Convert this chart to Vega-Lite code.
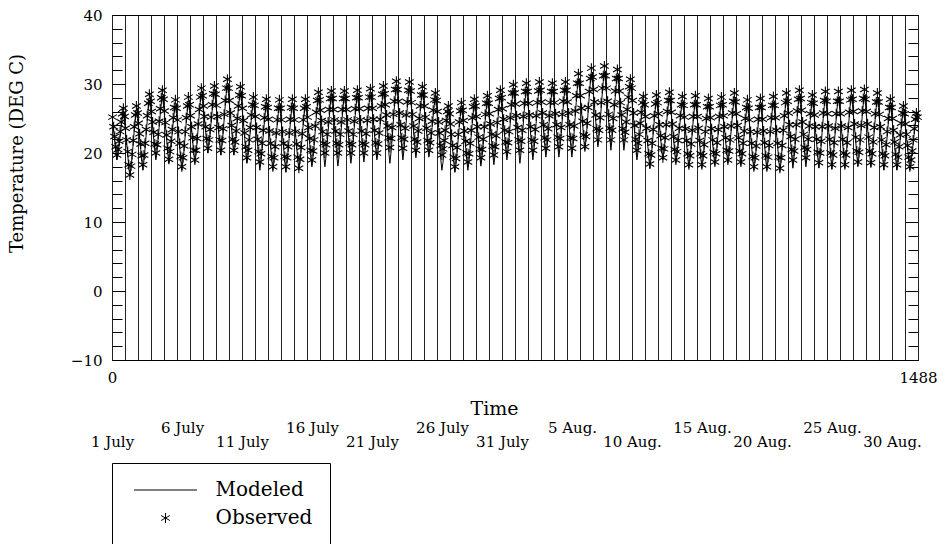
{
 "$schema": "https://vega.github.io/schema/vega-lite/v6.json",
 "width": 806,
 "height": 345,
 "autosize": {"type": "none"},
 "padding": {"left": 112, "top": 15, "right": 30, "bottom": 184},
 "background": "white",
 "config": {
  "font": "DejaVu Serif",
  "view": {"stroke": "black", "strokeWidth": 1},
  "axis": {"labelColor": "black", "titleColor": "black", "tickColor": "black", "tickWidth": 1, "labelFont": "DejaVu Serif", "titleFont": "DejaVu Serif", "titleFontWeight": "normal", "domain": false, "grid": false},
  "legend": {"labelFont": "DejaVu Serif", "titleFont": "DejaVu Serif"}
 },
 "data": {"values": [
{"t":1,"m":24.4,"o":25.2},{"t":3,"m":23.1,"o":23.8},{"t":5,"m":21.7,"o":22.4},{"t":7,"m":20.2,"o":20.9},{"t":9,"m":19.0,"o":19.7},{"t":11,"m":19.8,"o":20.5},{"t":13,"m":21.0,"o":21.7},{"t":15,"m":22.4,"o":23.1},{"t":17,"m":23.7,"o":24.5},{"t":19,"m":24.9,"o":25.7},{"t":21,"m":25.7,"o":26.5},{"t":23,"m":24.6,"o":25.3},
{"t":25,"m":23.0,"o":23.6},{"t":27,"m":21.4,"o":21.9},{"t":29,"m":19.8,"o":20.2},{"t":31,"m":18.0,"o":18.3},{"t":33,"m":16.6,"o":16.8},{"t":35,"m":17.8,"o":18.1},{"t":37,"m":19.4,"o":19.8},{"t":39,"m":21.3,"o":21.8},{"t":41,"m":23.2,"o":23.8},{"t":43,"m":24.8,"o":25.5},{"t":45,"m":26.0,"o":26.8},{"t":47,"m":25.0,"o":25.8},
{"t":49,"m":23.5,"o":24.3},{"t":51,"m":22.0,"o":22.8},{"t":53,"m":20.5,"o":21.3},{"t":55,"m":18.8,"o":19.6},{"t":57,"m":17.5,"o":18.3},{"t":59,"m":18.9,"o":19.7},{"t":61,"m":20.6,"o":21.4},{"t":63,"m":22.6,"o":23.4},{"t":65,"m":24.6,"o":25.4},{"t":67,"m":26.4,"o":27.2},{"t":69,"m":27.7,"o":28.5},{"t":71,"m":26.6,"o":27.5},
{"t":73,"m":25.1,"o":26.0},{"t":75,"m":23.6,"o":24.5},{"t":77,"m":22.0,"o":23.0},{"t":79,"m":20.3,"o":21.3},{"t":81,"m":19.0,"o":20.0},{"t":83,"m":20.2,"o":21.2},{"t":85,"m":21.8,"o":22.7},{"t":87,"m":23.7,"o":24.6},{"t":89,"m":25.5,"o":26.4},{"t":91,"m":27.1,"o":28.0},{"t":93,"m":28.3,"o":29.1},{"t":95,"m":27.1,"o":27.8},
{"t":97,"m":25.4,"o":26.1},{"t":99,"m":23.7,"o":24.4},{"t":101,"m":21.9,"o":22.6},{"t":103,"m":20.0,"o":20.7},{"t":105,"m":18.5,"o":19.1},{"t":107,"m":19.6,"o":20.2},{"t":109,"m":21.0,"o":21.7},{"t":111,"m":22.7,"o":23.4},{"t":113,"m":24.4,"o":25.1},{"t":115,"m":25.9,"o":26.6},{"t":117,"m":26.9,"o":27.7},{"t":119,"m":25.7,"o":26.5},
{"t":121,"m":24.1,"o":24.8},{"t":123,"m":22.5,"o":23.1},{"t":125,"m":20.8,"o":21.4},{"t":127,"m":19.0,"o":19.5},{"t":129,"m":17.5,"o":18.0},{"t":131,"m":18.8,"o":19.3},{"t":133,"m":20.4,"o":21.0},{"t":135,"m":22.4,"o":23.1},{"t":137,"m":24.4,"o":25.1},{"t":139,"m":26.1,"o":26.8},{"t":141,"m":27.3,"o":28.1},{"t":143,"m":26.2,"o":27.0},
{"t":145,"m":24.7,"o":25.4},{"t":147,"m":23.2,"o":23.8},{"t":149,"m":21.6,"o":22.2},{"t":151,"m":19.9,"o":20.4},{"t":153,"m":18.5,"o":19.0},{"t":155,"m":19.8,"o":20.4},{"t":157,"m":21.5,"o":22.1},{"t":159,"m":23.6,"o":24.2},{"t":161,"m":25.6,"o":26.3},{"t":163,"m":27.3,"o":28.1},{"t":165,"m":28.6,"o":29.4},{"t":167,"m":27.5,"o":28.3},
{"t":169,"m":26.0,"o":26.8},{"t":171,"m":24.5,"o":25.3},{"t":173,"m":23.0,"o":23.8},{"t":175,"m":21.3,"o":22.1},{"t":177,"m":20.0,"o":20.7},{"t":179,"m":21.2,"o":21.9},{"t":181,"m":22.7,"o":23.4},{"t":183,"m":24.5,"o":25.2},{"t":185,"m":26.2,"o":27.0},{"t":187,"m":27.8,"o":28.6},{"t":189,"m":28.9,"o":29.7},{"t":191,"m":27.7,"o":28.5},
{"t":193,"m":26.1,"o":26.9},{"t":195,"m":24.5,"o":25.3},{"t":197,"m":22.9,"o":23.7},{"t":199,"m":21.1,"o":21.9},{"t":201,"m":19.7,"o":20.4},{"t":203,"m":21.1,"o":21.8},{"t":205,"m":22.8,"o":23.5},{"t":207,"m":24.8,"o":25.6},{"t":209,"m":26.8,"o":27.6},{"t":211,"m":28.6,"o":29.4},{"t":213,"m":29.9,"o":30.7},{"t":215,"m":28.6,"o":29.4},
{"t":217,"m":26.8,"o":27.6},{"t":219,"m":25.1,"o":25.8},{"t":221,"m":23.3,"o":24.0},{"t":223,"m":21.3,"o":22.0},{"t":225,"m":19.7,"o":20.4},{"t":227,"m":20.9,"o":21.6},{"t":229,"m":22.4,"o":23.2},{"t":231,"m":24.3,"o":25.0},{"t":233,"m":26.1,"o":26.8},{"t":235,"m":27.7,"o":28.4},{"t":237,"m":28.8,"o":29.6},{"t":239,"m":27.5,"o":28.3},
{"t":241,"m":25.7,"o":26.5},{"t":243,"m":23.9,"o":24.7},{"t":245,"m":22.1,"o":22.9},{"t":247,"m":20.1,"o":20.9},{"t":249,"m":18.5,"o":19.3},{"t":251,"m":19.6,"o":20.4},{"t":253,"m":21.1,"o":21.9},{"t":255,"m":22.9,"o":23.7},{"t":257,"m":24.7,"o":25.5},{"t":259,"m":26.2,"o":27.0},{"t":261,"m":27.3,"o":28.1},{"t":263,"m":26.1,"o":26.9},
{"t":265,"m":24.4,"o":25.3},{"t":267,"m":22.7,"o":23.7},{"t":269,"m":20.9,"o":22.0},{"t":271,"m":19.0,"o":20.2},{"t":273,"m":17.5,"o":18.7},{"t":275,"m":18.8,"o":19.9},{"t":277,"m":20.4,"o":21.4},{"t":279,"m":22.3,"o":23.3},{"t":281,"m":24.2,"o":25.1},{"t":283,"m":25.8,"o":26.7},{"t":285,"m":27.0,"o":27.8},{"t":287,"m":25.8,"o":26.6},
{"t":289,"m":24.2,"o":24.9},{"t":291,"m":22.5,"o":23.2},{"t":293,"m":20.8,"o":21.4},{"t":295,"m":19.0,"o":19.5},{"t":297,"m":17.5,"o":18.0},{"t":299,"m":18.7,"o":19.3},{"t":301,"m":20.3,"o":20.9},{"t":303,"m":22.2,"o":22.9},{"t":305,"m":24.1,"o":24.8},{"t":307,"m":25.7,"o":26.5},{"t":309,"m":26.9,"o":27.7},{"t":311,"m":25.7,"o":26.5},
{"t":313,"m":24.0,"o":24.8},{"t":315,"m":22.3,"o":23.1},{"t":317,"m":20.6,"o":21.4},{"t":319,"m":18.7,"o":19.5},{"t":321,"m":17.2,"o":18.0},{"t":323,"m":18.5,"o":19.3},{"t":325,"m":20.1,"o":20.9},{"t":327,"m":22.1,"o":22.9},{"t":329,"m":24.1,"o":24.9},{"t":331,"m":25.8,"o":26.6},{"t":333,"m":27.0,"o":27.8},{"t":335,"m":25.8,"o":26.5},
{"t":337,"m":24.2,"o":24.8},{"t":339,"m":22.5,"o":23.1},{"t":341,"m":20.8,"o":21.3},{"t":343,"m":19.0,"o":19.4},{"t":345,"m":17.5,"o":17.8},{"t":347,"m":18.8,"o":19.1},{"t":349,"m":20.4,"o":20.8},{"t":351,"m":22.3,"o":22.8},{"t":353,"m":24.2,"o":24.8},{"t":355,"m":25.8,"o":26.5},{"t":357,"m":27.0,"o":27.8},{"t":359,"m":25.9,"o":26.7},
{"t":361,"m":24.3,"o":25.2},{"t":363,"m":22.8,"o":23.7},{"t":365,"m":21.2,"o":22.1},{"t":367,"m":19.4,"o":20.4},{"t":369,"m":18.0,"o":19.0},{"t":371,"m":19.3,"o":20.3},{"t":373,"m":21.0,"o":21.9},{"t":375,"m":23.0,"o":23.9},{"t":377,"m":25.0,"o":25.9},{"t":379,"m":26.7,"o":27.6},{"t":381,"m":28.0,"o":28.8},{"t":383,"m":26.7,"o":27.7},
{"t":385,"m":25.0,"o":26.2},{"t":387,"m":23.3,"o":24.7},{"t":389,"m":21.5,"o":23.1},{"t":391,"m":19.6,"o":21.4},{"t":393,"m":18.0,"o":20.0},{"t":395,"m":19.4,"o":21.2},{"t":397,"m":21.1,"o":22.7},{"t":399,"m":23.1,"o":24.5},{"t":401,"m":25.1,"o":26.3},{"t":403,"m":26.9,"o":27.9},{"t":405,"m":28.2,"o":29.0},{"t":407,"m":26.9,"o":27.9},
{"t":409,"m":25.2,"o":26.3},{"t":411,"m":23.4,"o":24.8},{"t":413,"m":21.6,"o":23.2},{"t":415,"m":19.7,"o":21.4},{"t":417,"m":18.1,"o":20.0},{"t":419,"m":19.4,"o":21.2},{"t":421,"m":21.1,"o":22.7},{"t":423,"m":23.2,"o":24.5},{"t":425,"m":25.2,"o":26.3},{"t":427,"m":26.9,"o":27.9},{"t":429,"m":28.2,"o":29.0},{"t":431,"m":27.0,"o":27.9},
{"t":433,"m":25.3,"o":26.3},{"t":435,"m":23.6,"o":24.8},{"t":437,"m":21.9,"o":23.2},{"t":439,"m":20.0,"o":21.4},{"t":441,"m":18.5,"o":20.0},{"t":443,"m":19.8,"o":21.2},{"t":445,"m":21.4,"o":22.7},{"t":447,"m":23.4,"o":24.6},{"t":449,"m":25.4,"o":26.4},{"t":451,"m":27.1,"o":28.0},{"t":453,"m":28.3,"o":29.1},{"t":455,"m":27.1,"o":28.0},
{"t":457,"m":25.4,"o":26.4},{"t":459,"m":23.8,"o":24.8},{"t":461,"m":22.1,"o":23.2},{"t":463,"m":20.2,"o":21.4},{"t":465,"m":18.7,"o":20.0},{"t":467,"m":20.0,"o":21.2},{"t":469,"m":21.6,"o":22.8},{"t":471,"m":23.6,"o":24.7},{"t":473,"m":25.6,"o":26.5},{"t":475,"m":27.3,"o":28.1},{"t":477,"m":28.5,"o":29.3},{"t":479,"m":27.3,"o":28.1},
{"t":481,"m":25.7,"o":26.5},{"t":483,"m":24.0,"o":24.9},{"t":485,"m":22.3,"o":23.3},{"t":487,"m":20.5,"o":21.5},{"t":489,"m":19.0,"o":20.0},{"t":491,"m":20.3,"o":21.3},{"t":493,"m":22.0,"o":22.9},{"t":495,"m":24.0,"o":24.9},{"t":497,"m":25.9,"o":26.8},{"t":499,"m":27.6,"o":28.5},{"t":501,"m":28.9,"o":29.7},{"t":503,"m":27.6,"o":28.6},
{"t":505,"m":25.8,"o":27.0},{"t":507,"m":24.0,"o":25.5},{"t":509,"m":22.1,"o":23.9},{"t":511,"m":20.1,"o":22.2},{"t":513,"m":18.5,"o":20.8},{"t":515,"m":20.0,"o":22.1},{"t":517,"m":21.8,"o":23.7},{"t":519,"m":24.1,"o":25.6},{"t":521,"m":26.3,"o":27.5},{"t":523,"m":28.2,"o":29.2},{"t":525,"m":29.6,"o":30.4},{"t":527,"m":28.2,"o":29.2},
{"t":529,"m":26.4,"o":27.5},{"t":531,"m":24.6,"o":25.8},{"t":533,"m":22.7,"o":24.1},{"t":535,"m":20.7,"o":22.2},{"t":537,"m":19.0,"o":20.7},{"t":539,"m":20.4,"o":22.0},{"t":541,"m":22.2,"o":23.6},{"t":543,"m":24.3,"o":25.5},{"t":545,"m":26.4,"o":27.4},{"t":547,"m":28.2,"o":29.1},{"t":549,"m":29.5,"o":30.3},{"t":551,"m":28.2,"o":29.0},
{"t":553,"m":26.4,"o":27.3},{"t":555,"m":24.7,"o":25.6},{"t":557,"m":22.9,"o":23.9},{"t":559,"m":20.9,"o":22.0},{"t":561,"m":19.3,"o":20.4},{"t":563,"m":20.6,"o":21.6},{"t":565,"m":22.2,"o":23.2},{"t":567,"m":24.1,"o":25.0},{"t":569,"m":26.0,"o":26.8},{"t":571,"m":27.6,"o":28.4},{"t":573,"m":28.8,"o":29.6},{"t":575,"m":27.6,"o":28.4},
{"t":577,"m":26.0,"o":26.8},{"t":579,"m":24.4,"o":25.2},{"t":581,"m":22.7,"o":23.6},{"t":583,"m":20.9,"o":21.8},{"t":585,"m":19.4,"o":20.4},{"t":587,"m":20.5,"o":21.5},{"t":589,"m":22.0,"o":22.9},{"t":591,"m":23.7,"o":24.6},{"t":593,"m":25.4,"o":26.2},{"t":595,"m":26.9,"o":27.7},{"t":597,"m":27.9,"o":28.7},{"t":599,"m":26.6,"o":27.6},
{"t":601,"m":24.8,"o":26.0},{"t":603,"m":23.0,"o":24.5},{"t":605,"m":21.1,"o":22.9},{"t":607,"m":19.1,"o":21.1},{"t":609,"m":17.5,"o":19.7},{"t":611,"m":18.6,"o":20.6},{"t":613,"m":20.1,"o":21.8},{"t":615,"m":21.8,"o":23.3},{"t":617,"m":23.5,"o":24.7},{"t":619,"m":25.0,"o":26.0},{"t":621,"m":26.0,"o":26.8},{"t":623,"m":24.9,"o":25.7},
{"t":625,"m":23.4,"o":24.2},{"t":627,"m":21.9,"o":22.7},{"t":629,"m":20.3,"o":21.1},{"t":631,"m":18.6,"o":19.4},{"t":633,"m":17.2,"o":18.0},{"t":635,"m":18.4,"o":19.2},{"t":637,"m":20.0,"o":20.8},{"t":639,"m":21.9,"o":22.7},{"t":641,"m":23.7,"o":24.5},{"t":643,"m":25.3,"o":26.1},{"t":645,"m":26.5,"o":27.3},{"t":647,"m":25.4,"o":26.2},
{"t":649,"m":23.8,"o":24.7},{"t":651,"m":22.3,"o":23.2},{"t":653,"m":20.7,"o":21.7},{"t":655,"m":18.9,"o":20.0},{"t":657,"m":17.5,"o":18.7},{"t":659,"m":18.8,"o":19.9},{"t":661,"m":20.4,"o":21.4},{"t":663,"m":22.3,"o":23.3},{"t":665,"m":24.2,"o":25.1},{"t":667,"m":25.8,"o":26.7},{"t":669,"m":27.0,"o":27.8},{"t":671,"m":25.9,"o":26.8},
{"t":673,"m":24.3,"o":25.3},{"t":675,"m":22.8,"o":23.8},{"t":677,"m":21.2,"o":22.3},{"t":679,"m":19.5,"o":20.6},{"t":681,"m":18.1,"o":19.3},{"t":683,"m":19.3,"o":20.5},{"t":685,"m":20.9,"o":22.0},{"t":687,"m":22.8,"o":23.8},{"t":689,"m":24.7,"o":25.6},{"t":691,"m":26.3,"o":27.2},{"t":693,"m":27.5,"o":28.3},{"t":695,"m":26.3,"o":27.2},
{"t":697,"m":24.7,"o":25.7},{"t":699,"m":23.1,"o":24.2},{"t":701,"m":21.5,"o":22.7},{"t":703,"m":19.7,"o":21.0},{"t":705,"m":18.3,"o":19.7},{"t":707,"m":19.6,"o":20.9},{"t":709,"m":21.3,"o":22.5},{"t":711,"m":23.3,"o":24.4},{"t":713,"m":25.3,"o":26.3},{"t":715,"m":27.0,"o":27.9},{"t":717,"m":28.3,"o":29.1},{"t":719,"m":27.1,"o":28.0},
{"t":721,"m":25.5,"o":26.4},{"t":723,"m":23.9,"o":24.9},{"t":725,"m":22.3,"o":23.3},{"t":727,"m":20.5,"o":21.6},{"t":729,"m":19.0,"o":20.2},{"t":731,"m":20.3,"o":21.5},{"t":733,"m":22.0,"o":23.1},{"t":735,"m":24.1,"o":25.1},{"t":737,"m":26.1,"o":27.0},{"t":739,"m":27.8,"o":28.7},{"t":741,"m":29.1,"o":29.9},{"t":743,"m":27.7,"o":28.7},
{"t":745,"m":25.9,"o":27.1},{"t":747,"m":24.1,"o":25.4},{"t":749,"m":22.2,"o":23.7},{"t":751,"m":20.2,"o":21.9},{"t":753,"m":18.5,"o":20.4},{"t":755,"m":19.9,"o":21.7},{"t":757,"m":21.7,"o":23.3},{"t":759,"m":23.9,"o":25.3},{"t":761,"m":26.1,"o":27.2},{"t":763,"m":27.9,"o":28.9},{"t":765,"m":29.3,"o":30.1},{"t":767,"m":28.0,"o":28.9},
{"t":769,"m":26.2,"o":27.2},{"t":771,"m":24.4,"o":25.5},{"t":773,"m":22.6,"o":23.8},{"t":775,"m":20.6,"o":21.9},{"t":777,"m":19.0,"o":20.4},{"t":779,"m":20.4,"o":21.7},{"t":781,"m":22.2,"o":23.4},{"t":783,"m":24.3,"o":25.4},{"t":785,"m":26.4,"o":27.3},{"t":787,"m":28.2,"o":29.0},{"t":789,"m":29.5,"o":30.3},{"t":791,"m":28.2,"o":29.1},
{"t":793,"m":26.5,"o":27.4},{"t":795,"m":24.7,"o":25.8},{"t":797,"m":22.9,"o":24.1},{"t":799,"m":21.0,"o":22.2},{"t":801,"m":19.4,"o":20.7},{"t":803,"m":20.7,"o":21.9},{"t":805,"m":22.4,"o":23.5},{"t":807,"m":24.4,"o":25.4},{"t":809,"m":26.3,"o":27.3},{"t":811,"m":28.0,"o":28.9},{"t":813,"m":29.3,"o":30.1},{"t":815,"m":28.0,"o":28.9},
{"t":817,"m":26.3,"o":27.3},{"t":819,"m":24.6,"o":25.7},{"t":821,"m":22.9,"o":24.1},{"t":823,"m":21.0,"o":22.3},{"t":825,"m":19.4,"o":20.9},{"t":827,"m":20.7,"o":22.1},{"t":829,"m":22.4,"o":23.7},{"t":831,"m":24.5,"o":25.6},{"t":833,"m":26.5,"o":27.5},{"t":835,"m":28.2,"o":29.1},{"t":837,"m":29.5,"o":30.3},{"t":839,"m":28.2,"o":29.1},
{"t":841,"m":26.5,"o":27.4},{"t":843,"m":24.7,"o":25.8},{"t":845,"m":22.9,"o":24.1},{"t":847,"m":21.0,"o":22.2},{"t":849,"m":19.4,"o":20.7},{"t":851,"m":20.9,"o":22.1},{"t":853,"m":22.8,"o":23.9},{"t":855,"m":25.1,"o":26.1},{"t":857,"m":27.3,"o":28.3},{"t":859,"m":29.2,"o":30.1},{"t":861,"m":30.7,"o":31.5},{"t":863,"m":29.4,"o":30.1},
{"t":865,"m":27.6,"o":28.3},{"t":867,"m":25.8,"o":26.5},{"t":869,"m":24.0,"o":24.6},{"t":871,"m":22.0,"o":22.6},{"t":873,"m":20.4,"o":20.9},{"t":875,"m":21.9,"o":22.4},{"t":877,"m":23.7,"o":24.3},{"t":879,"m":26.0,"o":26.6},{"t":881,"m":28.2,"o":28.9},{"t":883,"m":30.1,"o":30.8},{"t":885,"m":31.5,"o":32.3},{"t":887,"m":30.1,"o":31.0},
{"t":889,"m":28.3,"o":29.2},{"t":891,"m":26.5,"o":27.4},{"t":893,"m":24.6,"o":25.5},{"t":895,"m":22.6,"o":23.5},{"t":897,"m":20.9,"o":21.9},{"t":899,"m":22.4,"o":23.3},{"t":901,"m":24.2,"o":25.1},{"t":903,"m":26.4,"o":27.3},{"t":905,"m":28.5,"o":29.4},{"t":907,"m":30.4,"o":31.2},{"t":909,"m":31.8,"o":32.6},{"t":911,"m":30.3,"o":31.2},
{"t":913,"m":28.4,"o":29.4},{"t":915,"m":26.4,"o":27.5},{"t":917,"m":24.4,"o":25.6},{"t":919,"m":22.2,"o":23.6},{"t":921,"m":20.4,"o":21.9},{"t":923,"m":21.9,"o":23.3},{"t":925,"m":23.7,"o":25.0},{"t":927,"m":25.9,"o":27.0},{"t":929,"m":28.0,"o":29.0},{"t":931,"m":29.9,"o":30.8},{"t":933,"m":31.3,"o":32.1},{"t":935,"m":29.9,"o":30.8},
{"t":937,"m":28.0,"o":29.0},{"t":939,"m":26.1,"o":27.3},{"t":941,"m":24.2,"o":25.5},{"t":943,"m":22.1,"o":23.5},{"t":945,"m":20.4,"o":21.9},{"t":947,"m":21.7,"o":23.0},{"t":949,"m":23.3,"o":24.5},{"t":951,"m":25.2,"o":26.3},{"t":953,"m":27.1,"o":28.1},{"t":955,"m":28.7,"o":29.6},{"t":957,"m":29.9,"o":30.7},{"t":959,"m":28.5,"o":29.4},
{"t":961,"m":26.6,"o":27.6},{"t":963,"m":24.7,"o":25.8},{"t":965,"m":22.8,"o":24.0},{"t":967,"m":20.7,"o":22.0},{"t":969,"m":19.0,"o":20.4},{"t":971,"m":20.1,"o":21.4},{"t":973,"m":21.5,"o":22.7},{"t":975,"m":23.2,"o":24.3},{"t":977,"m":24.9,"o":25.9},{"t":979,"m":26.4,"o":27.3},{"t":981,"m":27.4,"o":28.2},{"t":983,"m":26.2,"o":27.0},
{"t":985,"m":24.5,"o":25.3},{"t":987,"m":22.9,"o":23.6},{"t":989,"m":21.2,"o":21.8},{"t":991,"m":19.3,"o":19.9},{"t":993,"m":17.8,"o":18.4},{"t":995,"m":19.1,"o":19.7},{"t":997,"m":20.7,"o":21.4},{"t":999,"m":22.7,"o":23.4},{"t":1001,"m":24.7,"o":25.4},{"t":1003,"m":26.4,"o":27.1},{"t":1005,"m":27.6,"o":28.4},{"t":1007,"m":26.5,"o":27.3},
{"t":1009,"m":25.0,"o":25.7},{"t":1011,"m":23.5,"o":24.1},{"t":1013,"m":22.0,"o":22.5},{"t":1015,"m":20.3,"o":20.7},{"t":1017,"m":19.0,"o":19.3},{"t":1019,"m":20.2,"o":20.6},{"t":1021,"m":21.7,"o":22.2},{"t":1023,"m":23.5,"o":24.1},{"t":1025,"m":25.3,"o":26.0},{"t":1027,"m":26.9,"o":27.6},{"t":1029,"m":28.0,"o":28.8},{"t":1031,"m":26.8,"o":27.6},
{"t":1033,"m":25.2,"o":25.9},{"t":1035,"m":23.5,"o":24.2},{"t":1037,"m":21.8,"o":22.4},{"t":1039,"m":20.0,"o":20.5},{"t":1041,"m":18.5,"o":19.0},{"t":1043,"m":19.7,"o":20.2},{"t":1045,"m":21.2,"o":21.8},{"t":1047,"m":23.0,"o":23.6},{"t":1049,"m":24.7,"o":25.4},{"t":1051,"m":26.3,"o":27.0},{"t":1053,"m":27.4,"o":28.2},{"t":1055,"m":26.2,"o":26.9},
{"t":1057,"m":24.5,"o":25.2},{"t":1059,"m":22.9,"o":23.5},{"t":1061,"m":21.2,"o":21.8},{"t":1063,"m":19.3,"o":19.9},{"t":1065,"m":17.8,"o":18.3},{"t":1067,"m":19.1,"o":19.6},{"t":1069,"m":20.7,"o":21.3},{"t":1071,"m":22.7,"o":23.3},{"t":1073,"m":24.6,"o":25.3},{"t":1075,"m":26.3,"o":27.0},{"t":1077,"m":27.5,"o":28.3},{"t":1079,"m":26.3,"o":27.0},
{"t":1081,"m":24.6,"o":25.3},{"t":1083,"m":22.9,"o":23.6},{"t":1085,"m":21.2,"o":21.8},{"t":1087,"m":19.3,"o":19.9},{"t":1089,"m":17.8,"o":18.3},{"t":1091,"m":19.0,"o":19.6},{"t":1093,"m":20.6,"o":21.2},{"t":1095,"m":22.5,"o":23.1},{"t":1097,"m":24.3,"o":25.0},{"t":1099,"m":25.9,"o":26.7},{"t":1101,"m":27.1,"o":27.9},{"t":1103,"m":26.0,"o":26.7},
{"t":1105,"m":24.4,"o":25.1},{"t":1107,"m":22.9,"o":23.5},{"t":1109,"m":21.3,"o":21.9},{"t":1111,"m":19.6,"o":20.1},{"t":1113,"m":18.2,"o":18.7},{"t":1115,"m":19.4,"o":19.9},{"t":1117,"m":20.9,"o":21.5},{"t":1119,"m":22.8,"o":23.4},{"t":1121,"m":24.6,"o":25.3},{"t":1123,"m":26.2,"o":26.9},{"t":1125,"m":27.3,"o":28.1},{"t":1127,"m":26.2,"o":27.0},
{"t":1129,"m":24.7,"o":25.4},{"t":1131,"m":23.2,"o":23.8},{"t":1133,"m":21.6,"o":22.2},{"t":1135,"m":19.9,"o":20.4},{"t":1137,"m":18.5,"o":19.0},{"t":1139,"m":19.7,"o":20.3},{"t":1141,"m":21.3,"o":21.9},{"t":1143,"m":23.2,"o":23.9},{"t":1145,"m":25.1,"o":25.8},{"t":1147,"m":26.7,"o":27.5},{"t":1149,"m":27.9,"o":28.7},{"t":1151,"m":26.7,"o":27.4},
{"t":1153,"m":25.0,"o":25.7},{"t":1155,"m":23.3,"o":24.0},{"t":1157,"m":21.6,"o":22.2},{"t":1159,"m":19.7,"o":20.3},{"t":1161,"m":18.2,"o":18.7},{"t":1163,"m":19.3,"o":19.9},{"t":1165,"m":20.8,"o":21.4},{"t":1167,"m":22.6,"o":23.2},{"t":1169,"m":24.3,"o":25.0},{"t":1171,"m":25.8,"o":26.6},{"t":1173,"m":26.9,"o":27.7},{"t":1175,"m":25.7,"o":26.5},
{"t":1177,"m":24.1,"o":24.8},{"t":1179,"m":22.5,"o":23.1},{"t":1181,"m":20.8,"o":21.4},{"t":1183,"m":19.0,"o":19.5},{"t":1185,"m":17.5,"o":18.0},{"t":1187,"m":18.8,"o":19.3},{"t":1189,"m":20.4,"o":21.0},{"t":1191,"m":22.3,"o":23.0},{"t":1193,"m":24.2,"o":24.9},{"t":1195,"m":25.9,"o":26.6},{"t":1197,"m":27.1,"o":27.9},{"t":1199,"m":25.9,"o":26.6},
{"t":1201,"m":24.2,"o":24.9},{"t":1203,"m":22.6,"o":23.2},{"t":1205,"m":20.9,"o":21.5},{"t":1207,"m":19.0,"o":19.6},{"t":1209,"m":17.5,"o":18.0},{"t":1211,"m":18.8,"o":19.4},{"t":1213,"m":20.5,"o":21.1},{"t":1215,"m":22.5,"o":23.1},{"t":1217,"m":24.4,"o":25.1},{"t":1219,"m":26.1,"o":26.9},{"t":1221,"m":27.4,"o":28.2},{"t":1223,"m":26.1,"o":26.9},
{"t":1225,"m":24.4,"o":25.1},{"t":1227,"m":22.6,"o":23.3},{"t":1229,"m":20.8,"o":21.4},{"t":1231,"m":18.9,"o":19.4},{"t":1233,"m":17.3,"o":17.8},{"t":1235,"m":18.7,"o":19.3},{"t":1237,"m":20.5,"o":21.1},{"t":1239,"m":22.6,"o":23.3},{"t":1241,"m":24.7,"o":25.4},{"t":1243,"m":26.5,"o":27.3},{"t":1245,"m":27.9,"o":28.7},{"t":1247,"m":26.6,"o":27.5},
{"t":1249,"m":24.9,"o":25.8},{"t":1251,"m":23.1,"o":24.1},{"t":1253,"m":21.3,"o":22.4},{"t":1255,"m":19.4,"o":20.5},{"t":1257,"m":17.8,"o":19.0},{"t":1259,"m":19.2,"o":20.3},{"t":1261,"m":21.0,"o":22.0},{"t":1263,"m":23.1,"o":24.1},{"t":1265,"m":25.2,"o":26.1},{"t":1267,"m":27.0,"o":27.8},{"t":1269,"m":28.3,"o":29.1},{"t":1271,"m":27.0,"o":27.9},
{"t":1273,"m":25.2,"o":26.2},{"t":1275,"m":23.4,"o":24.5},{"t":1277,"m":21.6,"o":22.7},{"t":1279,"m":19.6,"o":20.8},{"t":1281,"m":18.0,"o":19.3},{"t":1283,"m":19.3,"o":20.5},{"t":1285,"m":20.9,"o":22.0},{"t":1287,"m":22.8,"o":23.9},{"t":1289,"m":24.7,"o":25.7},{"t":1291,"m":26.4,"o":27.3},{"t":1293,"m":27.6,"o":28.4},{"t":1295,"m":26.4,"o":27.2},
{"t":1297,"m":24.7,"o":25.5},{"t":1299,"m":23.0,"o":23.8},{"t":1301,"m":21.2,"o":22.0},{"t":1303,"m":19.3,"o":20.1},{"t":1305,"m":17.8,"o":18.6},{"t":1307,"m":19.2,"o":20.0},{"t":1309,"m":20.9,"o":21.7},{"t":1311,"m":23.0,"o":23.8},{"t":1313,"m":25.0,"o":25.8},{"t":1315,"m":26.8,"o":27.6},{"t":1317,"m":28.1,"o":28.9},{"t":1319,"m":26.8,"o":27.5},
{"t":1321,"m":25.0,"o":25.7},{"t":1323,"m":23.2,"o":23.9},{"t":1325,"m":21.3,"o":22.0},{"t":1327,"m":19.3,"o":20.0},{"t":1329,"m":17.7,"o":18.3},{"t":1331,"m":19.1,"o":19.7},{"t":1333,"m":20.8,"o":21.5},{"t":1335,"m":22.9,"o":23.6},{"t":1337,"m":25.0,"o":25.7},{"t":1339,"m":26.8,"o":27.5},{"t":1341,"m":28.1,"o":28.9},{"t":1343,"m":26.8,"o":27.5},
{"t":1345,"m":25.0,"o":25.7},{"t":1347,"m":23.2,"o":23.9},{"t":1349,"m":21.4,"o":22.0},{"t":1351,"m":19.4,"o":20.0},{"t":1353,"m":17.8,"o":18.3},{"t":1355,"m":19.2,"o":19.7},{"t":1357,"m":21.0,"o":21.5},{"t":1359,"m":23.1,"o":23.7},{"t":1361,"m":25.2,"o":25.9},{"t":1363,"m":27.0,"o":27.7},{"t":1365,"m":28.3,"o":29.1},{"t":1367,"m":27.0,"o":27.8},
{"t":1369,"m":25.2,"o":26.0},{"t":1371,"m":23.5,"o":24.2},{"t":1373,"m":21.7,"o":22.3},{"t":1375,"m":19.7,"o":20.3},{"t":1377,"m":18.1,"o":18.7},{"t":1379,"m":19.5,"o":20.1},{"t":1381,"m":21.2,"o":21.9},{"t":1383,"m":23.3,"o":24.0},{"t":1385,"m":25.3,"o":26.1},{"t":1387,"m":27.1,"o":27.9},{"t":1389,"m":28.4,"o":29.2},{"t":1391,"m":27.1,"o":27.8},
{"t":1393,"m":25.3,"o":26.0},{"t":1395,"m":23.5,"o":24.2},{"t":1397,"m":21.6,"o":22.3},{"t":1399,"m":19.6,"o":20.3},{"t":1401,"m":18.0,"o":18.6},{"t":1403,"m":19.3,"o":19.9},{"t":1405,"m":21.0,"o":21.6},{"t":1407,"m":23.0,"o":23.7},{"t":1409,"m":24.9,"o":25.7},{"t":1411,"m":26.6,"o":27.4},{"t":1413,"m":27.9,"o":28.7},{"t":1415,"m":26.6,"o":27.4},
{"t":1417,"m":24.8,"o":25.6},{"t":1419,"m":23.0,"o":23.8},{"t":1421,"m":21.1,"o":21.9},{"t":1423,"m":19.1,"o":19.9},{"t":1425,"m":17.5,"o":18.3},{"t":1427,"m":18.8,"o":19.6},{"t":1429,"m":20.4,"o":21.2},{"t":1431,"m":22.3,"o":23.1},{"t":1433,"m":24.2,"o":25.0},{"t":1435,"m":25.8,"o":26.6},{"t":1437,"m":27.0,"o":27.8},{"t":1439,"m":25.8,"o":26.6},
{"t":1441,"m":24.2,"o":25.0},{"t":1443,"m":22.5,"o":23.3},{"t":1445,"m":20.8,"o":21.6},{"t":1447,"m":19.0,"o":19.8},{"t":1449,"m":17.5,"o":18.3},{"t":1451,"m":18.6,"o":19.4},{"t":1453,"m":20.1,"o":20.9},{"t":1455,"m":21.8,"o":22.6},{"t":1457,"m":23.5,"o":24.3},{"t":1459,"m":25.0,"o":25.8},{"t":1461,"m":26.0,"o":26.8},{"t":1463,"m":25.0,"o":25.7},
{"t":1465,"m":23.5,"o":24.2},{"t":1467,"m":22.0,"o":22.7},{"t":1469,"m":20.5,"o":21.1},{"t":1471,"m":18.8,"o":19.4},{"t":1473,"m":17.5,"o":18.0},{"t":1475,"m":18.5,"o":19.0},{"t":1477,"m":19.8,"o":20.3},{"t":1479,"m":21.3,"o":21.9},{"t":1481,"m":22.8,"o":23.5},{"t":1483,"m":24.1,"o":24.9},{"t":1485,"m":25.0,"o":25.8},{"t":1487,"m":24.6,"o":25.2}
 ]},
 "layer": [
  {
   "transform": [{"fold": ["o"], "as": ["series", "v"]}],
   "mark": {"type": "point", "filled": false, "size": 100, "strokeWidth": 1.1, "color": "black", "opacity": 1},
   "encoding": {
    "x": {"field": "t", "type": "quantitative", "scale": {"domain": [0, 1488], "nice": false, "zero": false},
     "axis": {"orient": "bottom", "values": [120, 360, 600, 840, 1080, 1320], "labelExpr": "datum.value==120?'6 July':datum.value==360?'16 July':datum.value==600?'26 July':datum.value==840?'5 Aug.':datum.value==1080?'15 Aug.':'25 Aug.'", "ticks": false, "domain": false, "grid": false, "offset": 57, "labelPadding": 3, "labelFontSize": 15, "labelOffset": 5, "labelFlush": false, "labelOverlap": false, "title": null}},
    "y": {"field": "v", "type": "quantitative", "scale": {"domain": [-10, 40], "nice": false},
     "axis": {"orient": "left", "values": [-8, -6, -4, -2, 2, 4, 6, 8, 12, 14, 16, 18, 22, 24, 26, 28, 32, 34, 36, 38], "tickSize": -10, "labels": false, "domain": false, "grid": false, "title": null}},
    "shape": {"field": "series", "type": "nominal",
     "scale": {"domain": ["m", "o"], "range": ["M-6.3,0L6.3,0", "M0,-1L0,1M-0.87,-0.5L0.87,0.5M-0.87,0.5L0.87,-0.5"]},
     "legend": {"orient": "none", "legendX": 0, "legendY": 448, "title": null, "direction": "vertical", "strokeColor": "black", "fillColor": "white", "padding": 17, "symbolSize": 100, "symbolStrokeWidth": 1, "symbolStrokeColor": "black", "symbolOffset": 26.5, "labelOffset": 40, "labelFontSize": 20, "labelFont": "DejaVu Serif", "labelColor": "black", "rowPadding": 8, "labelExpr": "datum.value=='m'?'Modeled':'Observed'",
      "encode": {"labels": {"update": {"font": {"value": "DejaVu Serif"}, "fontSize": {"value": 20}}}}}}
   }
  },
  {
   "mark": {"type": "line", "color": "black", "strokeWidth": 1},
   "encoding": {
    "x": {"field": "t", "type": "quantitative", "scale": {"domain": [0, 1488], "nice": false, "zero": false},
     "axis": {"orient": "bottom", "values": [0,24,48,72,96,120,144,168,192,216,240,264,288,312,336,360,384,408,432,456,480,504,528,552,576,600,624,648,672,696,720,744,768,792,816,840,864,888,912,936,960,984,1008,1032,1056,1080,1104,1128,1152,1176,1200,1224,1248,1272,1296,1320,1344,1368,1392,1416,1440,1464,1488], "grid": true, "gridColor": "#222222", "gridWidth": 1, "gridOpacity": 1, "ticks": false, "domain": false, "labelExpr": "datum.value==0||datum.value==1488?datum.label:''", "format": "d", "labelFontSize": 15, "labelPadding": 10, "labelFlush": false, "labelOverlap": false, "title": "Time", "titleFontSize": 19, "titlePadding": 14, "titleX": 382}},
    "y": {"field": "m", "type": "quantitative", "scale": {"domain": [-10, 40], "nice": false},
     "axis": {"orient": "left", "values": [-10, 0, 10, 20, 30, 40], "tickSize": -13, "labelFontSize": 15, "labelPadding": 23, "domain": false, "grid": false, "title": "Temperature (DEG C)", "titleFontSize": 18, "titlePadding": 44, "titleY": 138}}
   }
  },
  {
   "mark": {"type": "point", "opacity": 0},
   "encoding": {
    "x": {"field": "t", "type": "quantitative", "scale": {"domain": [0, 1488], "nice": false, "zero": false},
     "axis": {"orient": "bottom", "values": [0, 240, 480, 720, 960, 1200, 1440], "labelExpr": "datum.value==0?'1 July':datum.value==240?'11 July':datum.value==480?'21 July':datum.value==720?'31 July':datum.value==960?'10 Aug.':datum.value==1200?'20 Aug.':'30 Aug.'", "ticks": false, "domain": false, "grid": false, "offset": 71, "labelPadding": 3, "labelFontSize": 15, "labelFlush": false, "labelOverlap": false, "title": null}},
    "y": {"field": "o", "type": "quantitative", "scale": {"domain": [-10, 40], "nice": false},
     "axis": {"orient": "right", "values": [-10, 0, 10, 20, 30, 40], "tickSize": -13, "labels": false, "domain": false, "grid": false, "title": null}}
   }
  },
  {
   "mark": {"type": "point", "opacity": 0},
   "encoding": {
    "x": {"field": "t", "type": "quantitative", "scale": {"domain": [0, 1488], "nice": false, "zero": false}, "axis": null},
    "y": {"field": "o", "type": "quantitative", "scale": {"domain": [-10, 40], "nice": false},
     "axis": {"orient": "right", "values": [-8, -6, -4, -2, 2, 4, 6, 8, 12, 14, 16, 18, 22, 24, 26, 28, 32, 34, 36, 38], "tickSize": -10, "labels": false, "domain": false, "grid": false, "title": null}}
   }
  }
 ],
 "resolve": {"axis": {"x": "independent", "y": "independent"}}
}
